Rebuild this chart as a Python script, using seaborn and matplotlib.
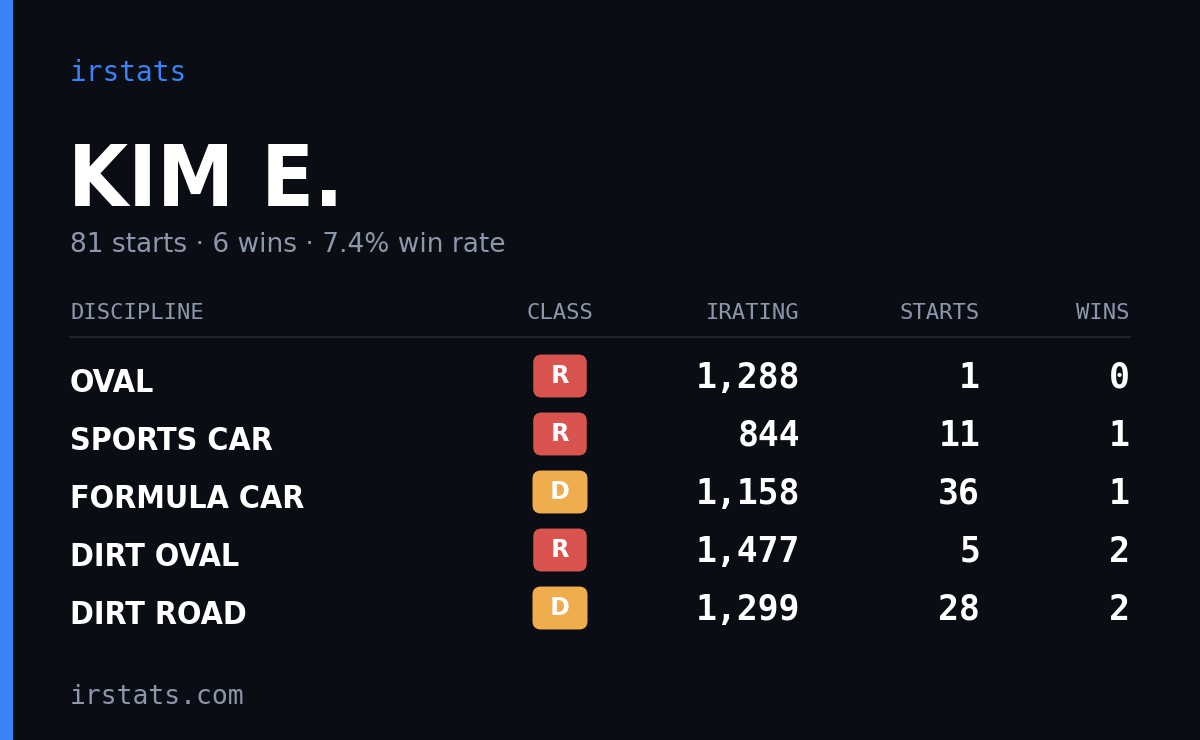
import matplotlib
matplotlib.use("Agg")
import matplotlib.pyplot as plt
import seaborn as sns
from matplotlib import font_manager

sns.set_style("dark")

# card data
driver = "KIM E."
summary = "81 starts · 6 wins · 7.4% win rate"
columns = ["DISCIPLINE", "CLASS", "IRATING", "STARTS", "WINS"]
disciplines = ["OVAL", "SPORTS CAR", "FORMULA CAR", "DIRT OVAL", "DIRT ROAD"]
classes = ["R", "R", "D", "R", "D"]
iratings = [1288, 844, 1158, 1477, 1299]
starts = [1, 11, 36, 5, 28]
wins = [0, 1, 1, 2, 2]

class_colors = {"R": "#d9534f", "D": "#f0ad4e"}
bg = "#0a0d14"
muted = "#8d97ab"
mono = "DejaVu Sans Mono"

fig = plt.figure(figsize=(12, 7.4), dpi=100, facecolor=bg)
ax = fig.add_axes([0, 0, 1, 1])
ax.set_facecolor(bg)
ax.set_xlim(0, 1200)
ax.set_ylim(740, 0)
ax.axis("off")

ax.axvspan(0, 12, color="#3b82f6")

ax.text(70, 73, "irstats", color="#3b82f6", fontsize=20, family=mono, va="center")
ax.text(68, 182, driver, color="white", fontsize=62, family="DejaVu Sans",
        fontstretch="condensed", fontweight="bold", va="center")
ax.text(70, 245, summary, color=muted, fontsize=19, family="DejaVu Sans", va="center")

col_x = [70, 593, 800, 980, 1130]
col_ha = ["left", "right", "right", "right", "right"]
for x, ha, c in zip(col_x, col_ha, columns):
    ax.text(x, 313, c, color=muted, fontsize=16, family=mono, ha=ha, va="center")
ax.plot([70, 1130], [337, 337], color="#1f2430", lw=1.5)

for i, d in enumerate(disciplines):
    y = 378 + 58 * i
    ax.text(70, y + 6, d, color="white", fontsize=23, family="DejaVu Sans",
            fontstretch="condensed", fontweight="bold", va="center")
    ax.text(560, y - 2, " " + classes[i] + " ", color="white", fontsize=17,
            fontweight="bold", ha="center", va="center",
            bbox=dict(boxstyle="round,pad=0.4,rounding_size=0.35",
                      fc=class_colors[classes[i]], ec="none"))
    for x, v in zip(col_x[2:], [f"{iratings[i]:,}", str(starts[i]), str(wins[i])]):
        ax.text(x, y, v, color="white", fontsize=25, family=mono,
                fontweight="bold", ha="right", va="center")

ax.text(70, 697, "irstats.com", color=muted, fontsize=19, family=mono, va="center")

fig.savefig("out.png", dpi=100, facecolor=bg)
